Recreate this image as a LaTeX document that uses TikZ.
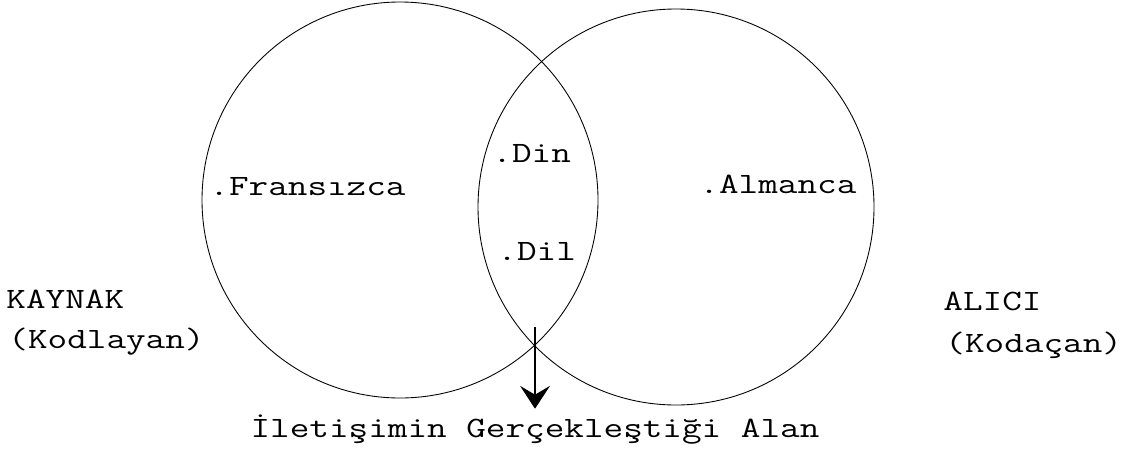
\documentclass[tikz,border=0pt]{standalone}
\usepackage{tikz}
\usetikzlibrary{arrows.meta}
\usetikzlibrary{positioning}

\newcommand{\typewr}{\fontsize{16.8}{20}\selectfont\ttfamily}
\tikzset{
  word/.style={font=\typewr, inner sep=0pt, anchor=base west, xscale=1.29, transform shape},
  ring/.style={line width=0.5pt},
}

\begin{document}
\begin{tikzpicture}
    \useasboundingbox (0,0) rectangle (22.64,-9.06);
    % the two circles
    \draw[ring] (8,-4) circle (3.96);
    \draw[ring] (13.52,-4.14) circle (3.96);
    \node[word] (fr) at (4.18,-3.9) {.Fransızca};
    \node[word] (din) at (9.84,-3.24) {.Din};
    \node[word] (dil) at (9.94,-5.2) {.Dil};
    \node[word] (al) at (13.98,-3.86) {.Almanca};
    \node[word] (kay) at (0.12,-6.16) {KAYNAK};
    \node[word] (kod) at (0.16,-6.96) {(Kodlayan)};
    \node[word] (alc) at (18.86,-6.2) {ALICI};
    \node[word] (koc) at (18.9,-7.04) {(Kodaçan)};
    \node[word, anchor=base] (alan) at (10.7,-8.74) {İletişimin Gerçekleştiği Alan};
    \coordinate (meet) at (10.7,-6.54);
    \draw[line width=1.1pt, -{Stealth[length=13pt,width=17pt,inset=5pt]}, shorten >=3pt] (meet) -- (alan.north);
  \end{tikzpicture}
\end{document}
